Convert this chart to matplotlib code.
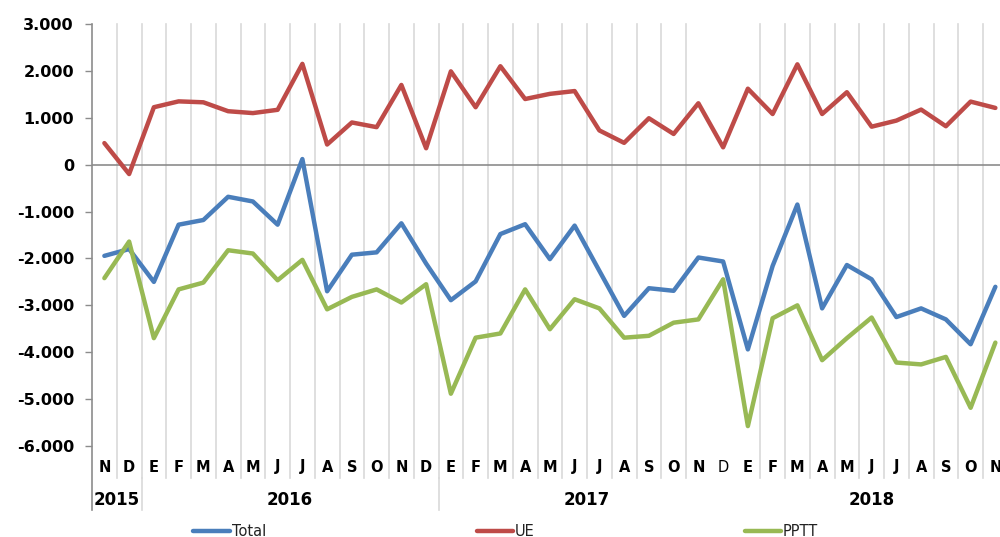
import matplotlib
matplotlib.use("Agg")
import matplotlib.pyplot as plt
from matplotlib.lines import Line2D
import matplotlib.transforms as mtransforms

months = ["N", "D",
          "E", "F", "M", "A", "M", "J", "J", "A", "S", "O", "N", "D",
          "E", "F", "M", "A", "M", "J", "J", "A", "S", "O", "N", "D",
          "E", "F", "M", "A", "M", "J", "J", "A", "S", "O", "N"]
years = ["2015", "2016", "2017", "2018"]
year_counts = [2, 12, 12, 11]

total = [-1945, -1800, -2500, -1280, -1180, -685, -785, -1280, 120, -2700,
         -1920, -1870, -1250, -2110, -2890, -2490, -1480, -1270, -2015, -1300,
         -2265, -3225, -2635, -2690, -1980, -2065, -3940, -2160, -850, -3065,
         -2140, -2445, -3250, -3065, -3300, -3830, -2605]
ue = [460, -200, 1225, 1350, 1330, 1140, 1100, 1170, 2150, 430,
      900, 800, 1700, 350, 1990, 1225, 2100, 1400, 1510, 1570,
      730, 465, 990, 655, 1310, 370, 1620, 1080, 2140, 1080,
      1545, 810, 940, 1175, 820, 1345, 1210]
pptt = [-2420, -1640, -3700, -2660, -2515, -1825, -1895, -2465, -2030, -3085,
        -2820, -2660, -2940, -2550, -4885, -3690, -3600, -2660, -3510, -2870,
        -3065, -3690, -3650, -3370, -3300, -2445, -5575, -3275, -3000, -4170,
        -3700, -3260, -4220, -4260, -4100, -5185, -3795]

series_names = ["Total", "UE", "PPTT"]
colors = ["#4a7ebb", "#be4b48", "#98b954"]
yticks = [3000, 2000, 1000, 0, -1000, -2000, -3000, -4000, -5000, -6000]

fig = plt.figure(figsize=(10, 5.37), dpi=100)
W, H = 1000, 537
ax_l, ax_t, ax_b = 92, 24, 446
ax = fig.add_axes([ax_l / W, 1 - ax_b / H, (W - ax_l) / W, (ax_b - ax_t) / H])
cat_w = 24.75
n = len(months)
ax.set_xlim(-0.5, -0.5 + (W - ax_l) / cat_w)
ax.set_ylim(-6000, 3000)

for s in ["top", "right", "bottom", "left"]:
    ax.spines[s].set_visible(False)

axh = ax_b - ax_t
def ay(px):
    return -(px - ax_b) / axh

trans = mtransforms.blended_transform_factory(ax.transData, ax.transAxes)
grid_col = "#d9d9d9"
axis_col = "#8c8c8c"

# vertical gridlines at category boundaries (two are absent in the reference)
missing = {24.5, 25.5}
for k in range(1, n + 1):
    xb = k - 0.5
    if xb in missing:
        continue
    ax.plot([xb, xb], [ay(478), 1], transform=trans, color=grid_col, lw=1.2,
            clip_on=False, zorder=1)

# year separators
bounds = [-0.5]
for c in year_counts:
    bounds.append(bounds[-1] + c)
for xb in bounds[1:-1]:
    if xb in missing:
        continue
    ax.plot([xb, xb], [ay(510), ay(478)], transform=trans, color=grid_col,
            lw=1.2, clip_on=False, zorder=1)

# left axis line
ax.plot([-0.5, -0.5], [ay(510), 1], transform=trans, color=axis_col, lw=1.2,
        clip_on=False, zorder=2)
ax.axhline(0, color=axis_col, lw=1.2, zorder=2)

x = list(range(n))
for vals, col in zip([total, ue, pptt], colors):
    ax.plot(x, vals, color=col, lw=3.2, solid_capstyle="round",
            solid_joinstyle="round", zorder=3)

ax.set_xticks([])
ax.set_yticks(yticks)
ax.set_yticklabels([f"{v:,}".replace(",", ".") for v in yticks],
                   fontsize=11.5, fontweight="bold", family="DejaVu Sans")
ax.tick_params(axis="y", length=5, width=1, color=axis_col, pad=8)

for i, m in enumerate(months):
    wt = "normal" if i == 25 else "bold"
    ax.text(i, ay(467), m, transform=trans, ha="center", va="center",
            fontsize=10.5, fontweight=wt, clip_on=False)

for yname, a, b in zip(years, bounds[:-1], bounds[1:]):
    ax.text((a + b) / 2, ay(500), yname, transform=trans, ha="center",
            va="center", fontsize=12, fontweight="bold", clip_on=False)

# legend
leg_y = 1 - 531 / H
leg_pos = [(193, 230, 232), (477, 513, 515), (745, 781, 783)]
for name, col, (x0, x1, xt) in zip(series_names, colors, leg_pos):
    fig.add_artist(Line2D([x0 / W, x1 / W], [leg_y, leg_y], color=col, lw=3.2,
                          solid_capstyle="round", transform=fig.transFigure))
    fig.text(xt / W, leg_y, name, ha="left", va="center", fontsize=10.5,
             color="#222222")

fig.savefig("out.png", dpi=100)
